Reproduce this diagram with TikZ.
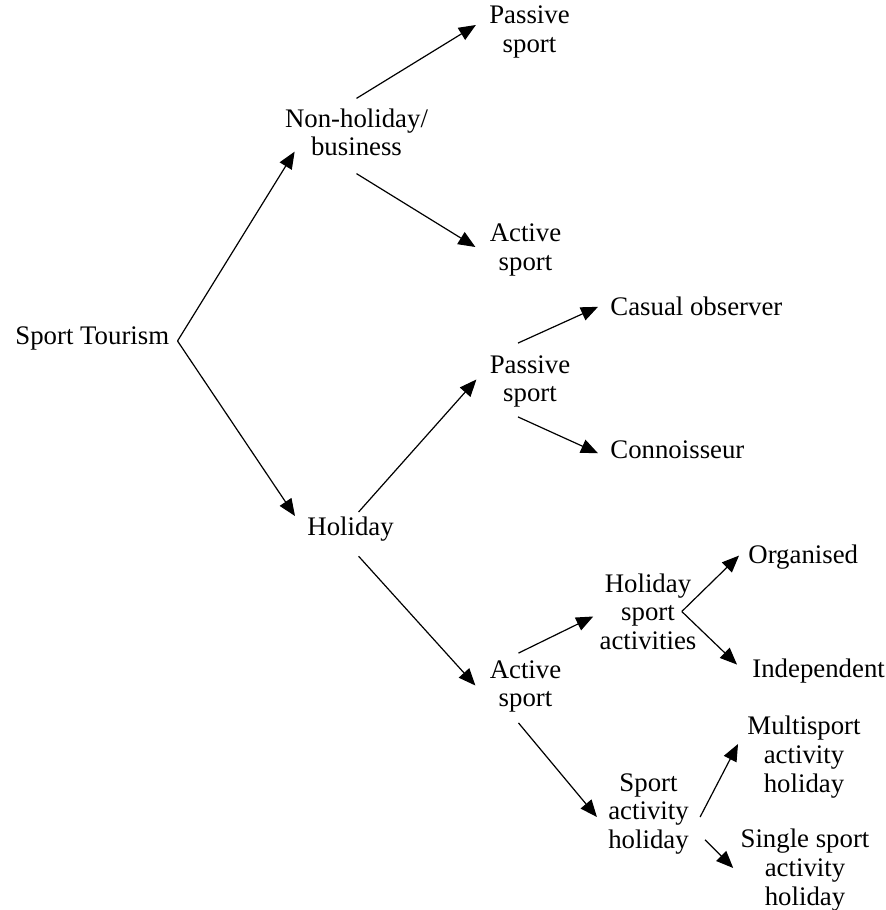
\documentclass[tikz,border=0pt]{standalone}
\usepackage{fontspec}
\setmainfont{Liberation Serif}
\usetikzlibrary{arrows.meta}

\begin{document}
\begin{tikzpicture}[x=0.5pt,y=-0.5pt,
		lbl/.style={inner sep=0pt,align=center,font=\fontsize{13.4}{14.3}\selectfont},
		arr/.style={-{Triangle[length=8.5pt,width=7pt]},line width=0.6pt}
		]
		\useasboundingbox (0,0) rectangle (886,910);
		\node[lbl,anchor=base west] (st) at (15,344) {Sport Tourism};
		\node[lbl] (nh) at (356.5,132.5) {Non-holiday/\\business};
		\node[lbl] (ps1) at (529.5,32) {Passive\\sport};
		\node[lbl] (as1) at (525.5,250) {Active\\sport};
		\node[lbl,anchor=base west] (hol) at (307,535) {Holiday};
		\node[lbl] (ps2) at (530,381.5) {Passive\\sport};
		\node[lbl,anchor=base west] (cas) at (610,315) {Casual observer};
		\node[lbl,anchor=base west] (con) at (610,458) {Connoisseur};
		\node[lbl] (as2) at (525.5,686.5) {Active\\sport};
		\node[lbl] (hsa) at (648,611.5) {Holiday\\sport\\activities};
		\node[lbl,anchor=base west] (org) at (748,563) {Organised};
		\node[lbl,anchor=base west] (ind) at (752,677) {Independent};
		\node[lbl] (sah) at (648.5,814) {Sport\\activity\\holiday};
		\node[lbl] (msp) at (804,757) {Multisport\\activity\\holiday};
		\node[lbl] (ssp) at (805,870) {Single sport\\activity\\holiday};

		\draw[arr] ([shift={(8,3)}]st.east) -- ([shift={(10,-5)}]nh.south west);
		\draw[arr] ([shift={(8,3)}]st.east) -- ([shift={(-12,0)}]hol.north west);
		\draw[arr] ([shift={(0,-10)}]nh.north) -- ([shift={(-13,-7)}]ps1.west);
		\draw[arr] ([shift={(0,17)}]nh.south) -- ([shift={(-14,-3)}]as1.west);
		\draw[arr] ([shift={(8,-4)}]hol.north) -- ([shift={(-13,-2)}]ps2.west);
		\draw[arr] ([shift={(8,15)}]hol.south) -- ([shift={(-14,-1)}]as2.west);
		\draw[arr] ([shift={(-12,-12)}]ps2.north) -- ([shift={(-12,1)}]cas.west);
		\draw[arr] ([shift={(-12,9)}]ps2.south) -- ([shift={(-12,4)}]con.west);
		\draw[arr] ([shift={(-7,-7)}]as2.north) -- ([shift={(-6,5)}]hsa.west);
		\draw[arr] ([shift={(-7,10)}]as2.south) -- ([shift={(-11,3)}]sah.west);
		\draw[arr] ([shift={(-15,0)}]hsa.east) -- ([shift={(-9,-1)}]org.west);
		\draw[arr] ([shift={(-15,0)}]hsa.east) -- ([shift={(-15,-6)}]ind.west);
		\draw[arr] ([shift={(11,3)}]sah.east) -- ([shift={(-9,-13)}]msp.west);
		\draw[arr] ([shift={(16,-15)}]sah.south east) -- ([shift={(-7,-2)}]ssp.west);
\end{tikzpicture}
\end{document}
